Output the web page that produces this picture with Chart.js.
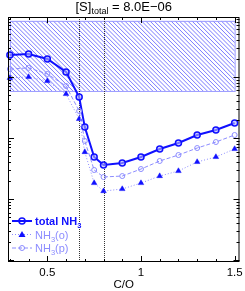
<!DOCTYPE html>
<html>
<head>
<meta charset="utf-8">
<script src="https://cdn.jsdelivr.net/npm/chart.js@4"></script>
<style>
  html, body { margin: 0; padding: 0; background: #fff; }
  #wrap { width: 245px; height: 291px; }
</style>
</head>
<body>
<div id="wrap"><canvas id="c"></canvas></div>
<script>
// C/O ratio values
const coRatio = [0.3, 0.4, 0.5, 0.6, 0.67, 0.7, 0.75, 0.8, 0.9, 1.0, 1.1, 1.2, 1.3, 1.4, 1.5];
const totalNH3 = [2.30e-7, 2.38e-7, 1.97e-7, 1.21e-7, 4.70e-8, 1.51e-8, 4.89e-9, 3.61e-9, 3.89e-9, 4.89e-9, 6.61e-9, 8.28e-9, 1.12e-8, 1.35e-8, 1.76e-8];
const nh3o = [9.64e-8, 1.00e-7, 8.59e-8, 5.26e-8, 2.05e-8, 5.89e-9, 1.83e-9, 1.35e-9, 1.46e-9, 1.83e-9, 2.38e-9, 2.88e-9, 4.05e-9, 4.89e-9, 6.61e-9];
const nh3p = [1.35e-7, 1.41e-7, 1.12e-7, 7.11e-8, 2.77e-8, 8.93e-9, 2.99e-9, 2.30e-9, 2.38e-9, 3.10e-9, 4.20e-9, 5.26e-9, 6.85e-9, 8.59e-9, 1.12e-8];

// hatched box and vertical markers
const boxX = [0.3, 1.5];
const boxY = [5.9e-8, 8.3e-7];
const vLines = [0.67, 0.8];

const xMajor = [0.5, 1, 1.5];
const xMajorLabels = ['0.5', '1', '1.5'];
const xMinor = [0.3, 0.4, 0.6, 0.7, 0.8, 0.9, 1.1, 1.2, 1.3, 1.4];

const dark = '#1010ff';
const light = '#8c8cff';

const pts = (ys) => coRatio.map((x, i) => ({ x: x, y: ys[i] }));

// hatched box, dotted verticals, ticks, title, legend
const decor = {
  id: 'decor',
  beforeDatasetsDraw(chart) {
    const { ctx, chartArea: a, scales: { x, y } } = chart;
    const x0 = x.getPixelForValue(boxX[0]), x1 = x.getPixelForValue(boxX[1]);
    const y0 = y.getPixelForValue(boxY[1]), y1 = y.getPixelForValue(boxY[0]);
    ctx.save();
    ctx.beginPath();
    ctx.rect(x0, y0, x1 - x0, y1 - y0);
    ctx.clip();
    ctx.strokeStyle = '#6a6aff';
    ctx.lineWidth = 0.9;
    ctx.beginPath();
    const h = y1 - y0;
    for (let s = x0 - h; s < x1 + 4; s += 4.2) {
      ctx.moveTo(s, y0);
      ctx.lineTo(s + h, y1);
    }
    ctx.stroke();
    ctx.restore();
    ctx.save();
    ctx.strokeStyle = '#9a9aff';
    ctx.lineWidth = 1;
    ctx.strokeRect(x0 + 0.5, y0 + 0.5, x1 - x0, y1 - y0);

    // vertical dotted lines
    ctx.strokeStyle = '#333';
    ctx.setLineDash([1, 1]);
    vLines.forEach(v => {
      const px = Math.round(x.getPixelForValue(v)) + 0.5;
      ctx.beginPath();
      ctx.moveTo(px, a.top);
      ctx.lineTo(px, a.bottom);
      ctx.stroke();
    });
    ctx.restore();
  },
  afterDraw(chart) {
    const { ctx, chartArea: a, scales: { x, y } } = chart;
    ctx.save();
    ctx.strokeStyle = '#000';
    ctx.lineWidth = 1;
    ctx.strokeRect(a.left + 0.5, a.top + 0.5, a.right - a.left - 1, a.bottom - a.top - 1);

    ctx.beginPath();
    const xt = (v, len) => {
      const px = Math.round(x.getPixelForValue(v)) + 0.5;
      ctx.moveTo(px, a.bottom); ctx.lineTo(px, a.bottom - len);
      ctx.moveTo(px, a.top); ctx.lineTo(px, a.top + len);
    };
    xMajor.forEach(v => xt(v, 6));
    xMinor.forEach(v => xt(v, 3));
    // log ticks on both sides
    for (let e = -11; e <= -6; e++) {
      for (let m = 1; m <= 9; m++) {
        const v = m * Math.pow(10, e);
        if (v < y.min || v > y.max) continue;
        const py = Math.round(y.getPixelForValue(v)) + 0.5;
        const len = m === 1 ? 6 : 3;
        ctx.moveTo(a.left, py); ctx.lineTo(a.left + len, py);
        ctx.moveTo(a.right, py); ctx.lineTo(a.right - len, py);
      }
    }
    ctx.stroke();

    ctx.fillStyle = '#000';
    ctx.font = '11.5px "Liberation Sans", Arial, sans-serif';
    ctx.textAlign = 'center';
    ctx.textBaseline = 'top';
    xMajor.forEach((v, i) => ctx.fillText(xMajorLabels[i], x.getPixelForValue(v), a.bottom + 5));
    ctx.fillText('C/O', (a.left + a.right) / 2, a.bottom + 17);

    // title with subscript
    ctx.textAlign = 'left';
    ctx.textBaseline = 'alphabetic';
    const big = '13px "Liberation Sans", Arial, sans-serif';
    const small = '9px "Liberation Sans", Arial, sans-serif';
    const parts = [['[S]', big, 0], ['total', small, 3], [' = 8.0E\u221206', big, 0]];
    let w = 0;
    parts.forEach(p => { ctx.font = p[1]; w += ctx.measureText(p[0]).width; });
    let tx = (a.left + a.right) / 2 - w / 2;
    parts.forEach(p => {
      ctx.font = p[1];
      ctx.fillText(p[0], tx, 11 + p[2]);
      tx += ctx.measureText(p[0]).width;
    });

    // legend
    const items = [
      { label: 'total NH', color: dark, dash: [], lw: 2, style: 'circle', fill: false, r: 3, bold: true, py: 221 },
      { label: 'NH', suffix: '(o)', color: light, dash: [1, 2], lw: 1, style: 'tri', fill: true, r: 3, py: 234.5, mcol: dark },
      { label: 'NH', suffix: '(p)', color: light, dash: [4, 2], lw: 1, style: 'circle', fill: false, r: 2.5, py: 248 }
    ];
    items.forEach(it => {
      ctx.strokeStyle = it.color;
      ctx.lineWidth = it.lw;
      ctx.setLineDash(it.dash);
      ctx.beginPath();
      ctx.moveTo(12, it.py); ctx.lineTo(32, it.py);
      ctx.stroke();
      ctx.setLineDash([]);
      ctx.beginPath();
      if (it.style === 'circle') {
        ctx.arc(22, it.py, it.r, 0, Math.PI * 2);
        ctx.lineWidth = it.bold ? 1.5 : 1;
        ctx.stroke();
      } else {
        ctx.fillStyle = it.mcol;
        ctx.moveTo(22, it.py - 3.5); ctx.lineTo(25.5, it.py + 2.5); ctx.lineTo(18.5, it.py + 2.5);
        ctx.closePath(); ctx.fill();
      }
      ctx.fillStyle = it.color;
      const f = it.bold ? 'bold 11px "Liberation Sans", Arial, sans-serif' : '11px "Liberation Sans", Arial, sans-serif';
      const fs = it.bold ? 'bold 7.5px "Liberation Sans", Arial, sans-serif' : '7.5px "Liberation Sans", Arial, sans-serif';
      ctx.font = f;
      let lx = 35;
      const by = it.py + 4;
      ctx.fillText(it.label, lx, by);
      lx += ctx.measureText(it.label).width;
      ctx.font = fs;
      ctx.fillText('3', lx, by + 3);
      lx += ctx.measureText('3').width;
      if (it.suffix) {
        ctx.font = f;
        ctx.fillText(it.suffix, lx, by);
      }
    });
    ctx.restore();
  }
};

new Chart(document.getElementById('c'), {
  type: 'line',
  data: {
    datasets: [
      {
        label: 'NH3(p)', data: pts(nh3p), clip: false,
        borderColor: light, borderWidth: 1, borderDash: [4, 2],
        pointStyle: 'circle', pointRadius: 2.5, pointBorderColor: light, pointBackgroundColor: 'rgba(0,0,0,0)', pointBorderWidth: 1
      },
      {
        label: 'NH3(o)', data: pts(nh3o), clip: false,
        borderColor: light, borderWidth: 1, borderDash: [1, 2],
        pointStyle: 'triangle', pointRadius: 3.2, pointBorderColor: dark, pointBackgroundColor: dark, pointBorderWidth: 0.5
      },
      {
        label: 'total NH3', data: pts(totalNH3), clip: false,
        borderColor: dark, borderWidth: 2,
        pointStyle: 'circle', pointRadius: 3, pointBorderColor: dark, pointBackgroundColor: 'rgba(180,180,255,0.6)', pointBorderWidth: 1.5
      }
    ]
  },
  options: {
    responsive: true,
    maintainAspectRatio: false,
    animation: false,
    layout: { padding: { left: 8, right: 4, top: 17, bottom: 29 } },
    scales: {
      x: { type: 'linear', min: 0.29, max: 1.526, display: false },
      y: { type: 'logarithmic', min: 9.3e-11, max: 9.6e-7, display: false }
    },
    plugins: { legend: { display: false }, tooltip: { enabled: false } }
  },
  plugins: [decor]
});
</script>
</body>
</html>
